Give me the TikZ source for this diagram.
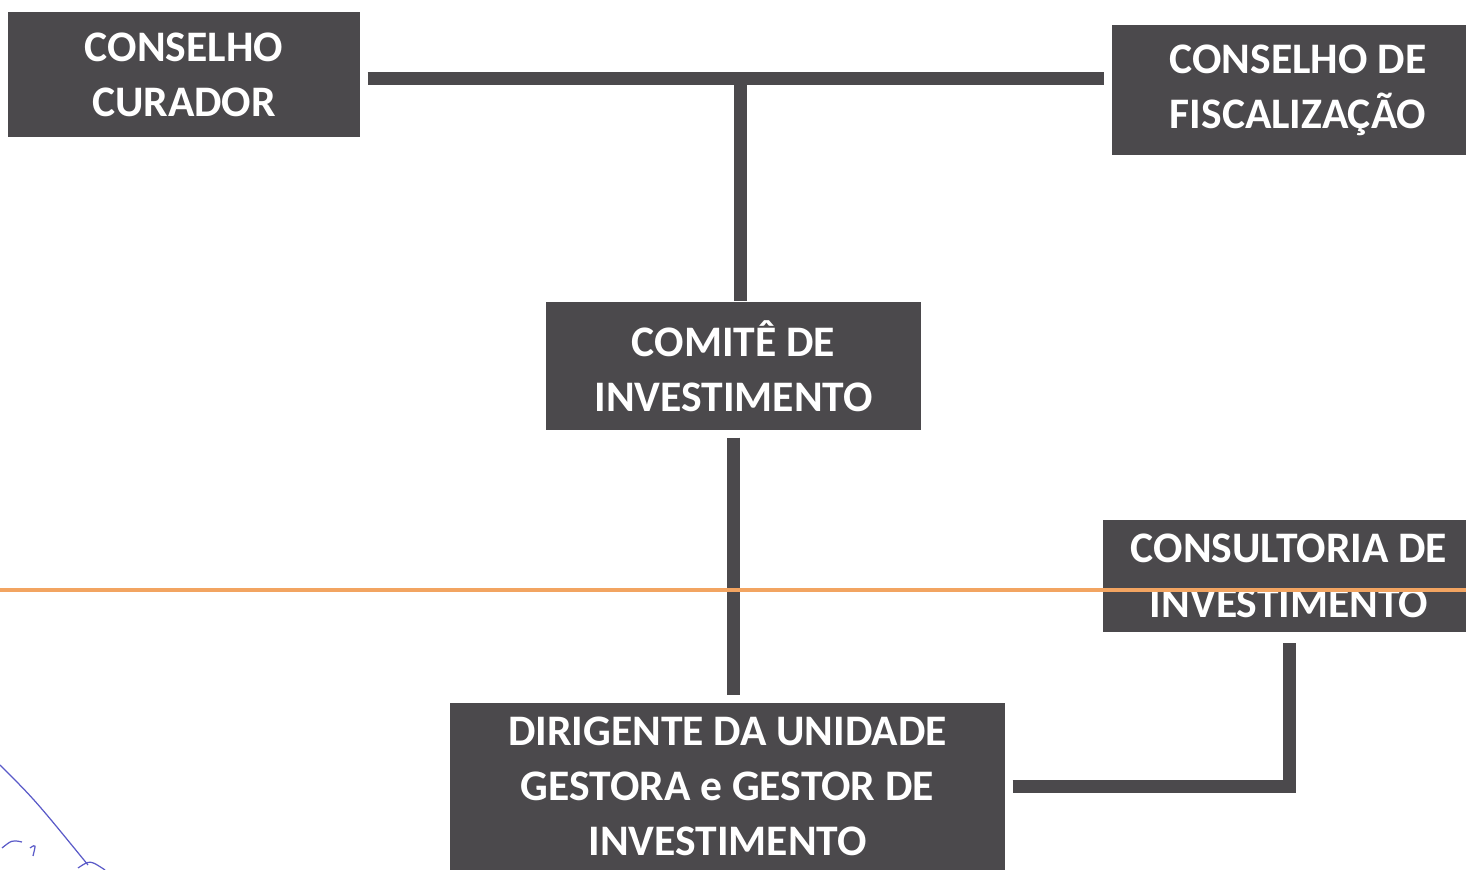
\documentclass[tikz,border=0pt]{standalone}
\usepackage{fontspec}
\setmainfont{Carlito}
\usetikzlibrary{positioning,calc}
\definecolor{box gray}{HTML}{4B494C}
\definecolor{scan orange}{HTML}{F2A461}
\definecolor{pen blue}{HTML}{5A5AC8}
\tikzset{
    % Boxes
    org box/.style={fill=box gray,text=white,inner sep=0pt,align=center,
        font=\fontsize{12.4}{15.6}\selectfont\bfseries},
    % Lines
    link/.style={draw=box gray,line width=3.7pt},
    scan line/.style={draw=scan orange,line width=1pt},
    pen/.style={draw=pen blue,line width=0.35pt}
}

\begin{document}
\begin{tikzpicture}
        \useasboundingbox (0,0) rectangle (14.66,8.70);
        \clip (0,0) rectangle (14.66,8.70);
        
        \node[org box,minimum width=3.52cm,minimum height=1.25cm] (curador) at (1.84,7.955) {CONSELHO\\CURADOR};
        \node[org box,minimum width=3.72cm,minimum height=1.30cm] (fiscal) at (12.98,7.80) {CONSELHO DE\\FISCALIZAÇÃO};
        \node[org box,minimum width=3.75cm,minimum height=1.28cm] (comite) at (7.335,5.04) {COMITÊ DE\\INVESTIMENTO};
        \node[org box,minimum width=3.72cm,minimum height=1.12cm] (consultoria) at (12.89,2.94) {CONSULTORIA DE\\INVESTIMENTO};
        \node[org box,minimum width=5.55cm,minimum height=1.67cm] (dirigente) at (7.275,0.835) {DIRIGENTE DA UNIDADE\\GESTORA e GESTOR DE\\INVESTIMENTO};
        
        \coordinate (bus) at (7.40,7.91);
        \draw[link] ([xshift=2pt]curador.east |- bus) -- ([xshift=-2pt]fiscal.west |- bus);
        \draw[link] (bus) -- (bus |- comite.north);
        \draw[link] ([yshift=-2pt]comite.south) -- ([yshift=2pt]comite.south |- dirigente.north);
        \draw[link] ([xshift=2pt]dirigente.east) -| ([yshift=-3pt]consultoria.south);
        
        % scan marks
        \coordinate (edge west) at (0,2.80);
        \coordinate (edge east) at (14.66,2.80);
        \draw[scan line] (edge west) -- (edge east);
        \draw[pen] (0,1.05) .. controls (0.35,0.70) .. (0.88,0.05);
        \draw[pen] (0.02,0.22) .. controls (0.12,0.30) .. (0.22,0.28);
        \draw[pen] (0.30,0.22) .. controls (0.36,0.26) .. (0.33,0.14);
        \draw[pen] (0.78,0.02) .. controls (0.90,0.10) .. (1.05,0.0);
\end{tikzpicture}
\end{document}
